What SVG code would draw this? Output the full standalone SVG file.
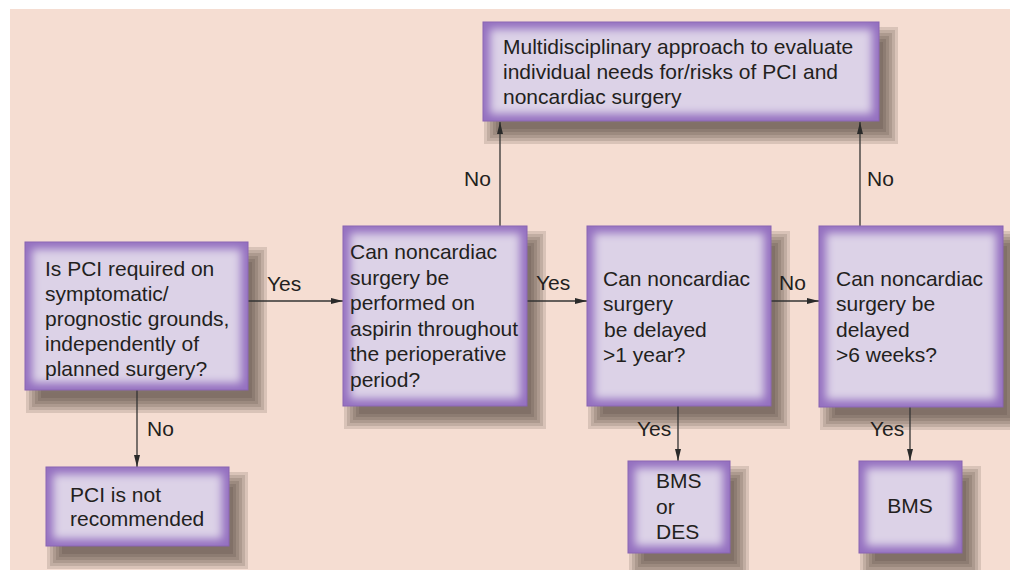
<svg xmlns="http://www.w3.org/2000/svg" width="1010" height="570" viewBox="0 0 1010 570">
<defs>
<filter id="gl" x="-10%" y="-10%" width="120%" height="120%">
 <feGaussianBlur stdDeviation="4"/>
</filter>
<marker id="arr" viewBox="0 0 12 6" refX="12" refY="3" markerWidth="12" markerHeight="6" markerUnits="userSpaceOnUse" orient="auto">
 <path d="M0,0 L12,3 L0,6 Z" fill="#2a2a2a"/>
</marker>
</defs>
<style>
.s{fill:#3a2c2a;fill-opacity:0.15}
.ed{fill:#9470c0;stroke:#8862b2;stroke-width:1}
.in{fill:#dcd2e7;filter:url(#gl)}
text{font-family:"Liberation Sans",Arial,sans-serif;font-size:21px;fill:#231f20}
.c{stroke:#333;stroke-width:1.3;fill:none;marker-end:url(#arr)}
</style>
<rect x="10" y="9" width="1000" height="561" fill="#f5ddd2"/>
<g id="shadows">
 <g transform="translate(493,36)"><rect class="s" x="-9" y="-9" width="414" height="117"/><rect class="s" x="-6" y="-6" width="408" height="111"/><rect class="s" x="-3" y="-3" width="402" height="105"/><rect class="s" x="0" y="0" width="396" height="99"/><rect class="s" x="3" y="3" width="390" height="93"/><rect class="s" x="6" y="6" width="384" height="87"/></g>
 <g transform="translate(35,256)"><rect class="s" x="-9" y="-9" width="241" height="166"/><rect class="s" x="-6" y="-6" width="235" height="160"/><rect class="s" x="-3" y="-3" width="229" height="154"/><rect class="s" x="0" y="0" width="223" height="148"/><rect class="s" x="3" y="3" width="217" height="142"/><rect class="s" x="6" y="6" width="211" height="136"/></g>
 <g transform="translate(353,240)"><rect class="s" x="-9" y="-9" width="202" height="198"/><rect class="s" x="-6" y="-6" width="196" height="192"/><rect class="s" x="-3" y="-3" width="190" height="186"/><rect class="s" x="0" y="0" width="184" height="180"/><rect class="s" x="3" y="3" width="178" height="174"/><rect class="s" x="6" y="6" width="172" height="168"/></g>
 <g transform="translate(597,240)"><rect class="s" x="-9" y="-9" width="202" height="198"/><rect class="s" x="-6" y="-6" width="196" height="192"/><rect class="s" x="-3" y="-3" width="190" height="186"/><rect class="s" x="0" y="0" width="184" height="180"/><rect class="s" x="3" y="3" width="178" height="174"/><rect class="s" x="6" y="6" width="172" height="168"/></g>
 <g transform="translate(829,240)"><rect class="s" x="-9" y="-9" width="202" height="199"/><rect class="s" x="-6" y="-6" width="196" height="193"/><rect class="s" x="-3" y="-3" width="190" height="187"/><rect class="s" x="0" y="0" width="184" height="181"/><rect class="s" x="3" y="3" width="178" height="175"/><rect class="s" x="6" y="6" width="172" height="169"/></g>
 <g transform="translate(56,481)"><rect class="s" x="-9" y="-9" width="201" height="97"/><rect class="s" x="-6" y="-6" width="195" height="91"/><rect class="s" x="-3" y="-3" width="189" height="85"/><rect class="s" x="0" y="0" width="183" height="79"/><rect class="s" x="3" y="3" width="177" height="73"/><rect class="s" x="6" y="6" width="171" height="67"/></g>
 <g transform="translate(638,475)"><rect class="s" x="-9" y="-9" width="120" height="110"/><rect class="s" x="-6" y="-6" width="114" height="104"/><rect class="s" x="-3" y="-3" width="108" height="98"/><rect class="s" x="0" y="0" width="102" height="92"/><rect class="s" x="3" y="3" width="96" height="86"/><rect class="s" x="6" y="6" width="90" height="80"/></g>
 <g transform="translate(869,475)"><rect class="s" x="-9" y="-9" width="121" height="110"/><rect class="s" x="-6" y="-6" width="115" height="104"/><rect class="s" x="-3" y="-3" width="109" height="98"/><rect class="s" x="0" y="0" width="103" height="92"/><rect class="s" x="3" y="3" width="97" height="86"/><rect class="s" x="6" y="6" width="91" height="80"/></g>
</g>
<g id="connectors">
 <line class="c" x1="248" y1="301" x2="343" y2="301"/>
 <line class="c" x1="527" y1="301" x2="587" y2="301"/>
 <line class="c" x1="771" y1="301" x2="819" y2="301"/>
 <line class="c" x1="500" y1="226" x2="500" y2="122"/>
 <line class="c" x1="860" y1="226" x2="860" y2="122"/>
 <line class="c" x1="137" y1="390" x2="137" y2="467"/>
 <line class="c" x1="678" y1="406" x2="678" y2="461"/>
 <line class="c" x1="910" y1="407" x2="910" y2="461"/>
 <text x="267" y="291">Yes</text>
 <text x="536" y="290">Yes</text>
 <text x="779" y="290">No</text>
 <text x="464" y="186">No</text>
 <text x="867" y="186">No</text>
 <text x="147" y="436">No</text>
 <text x="637" y="436">Yes</text>
 <text x="870" y="436">Yes</text>
</g>
<g id="multidisciplinary">
 <rect class="ed" x="483" y="22" width="396" height="99"/>
 <rect class="in" x="490" y="29" width="382" height="85"/>
 <text x="503" y="54">Multidisciplinary approach to evaluate</text>
 <text x="503" y="79">individual needs for/risks of PCI and</text>
 <text x="503" y="104">noncardiac surgery</text>
</g>
<g id="pci-required">
 <rect class="ed" x="25" y="242" width="223" height="148"/>
 <rect class="in" x="32" y="249" width="209" height="134"/>
 <text x="45" y="276">Is PCI required on</text>
 <text x="45" y="301">symptomatic/</text>
 <text x="45" y="326">prognostic grounds,</text>
 <text x="45" y="351">independently of</text>
 <text x="45" y="376">planned surgery?</text>
</g>
<g id="aspirin">
 <rect class="ed" x="343" y="226" width="184" height="180"/>
 <rect class="in" x="350" y="233" width="170" height="166"/>
 <text x="350" y="259">Can noncardiac</text>
 <text x="350" y="284.5">surgery be</text>
 <text x="350" y="310">performed on</text>
 <text x="350" y="335.5">aspirin throughout</text>
 <text x="350" y="361">the perioperative</text>
 <text x="350" y="386.5">period?</text>
</g>
<g id="delay-1year">
 <rect class="ed" x="587" y="226" width="184" height="180"/>
 <rect class="in" x="594" y="233" width="170" height="166"/>
 <text x="603" y="285.5">Can noncardiac</text>
 <text x="603" y="311">surgery</text>
 <text x="604" y="336.5">be delayed</text>
 <text x="603" y="362">&gt;1 year?</text>
</g>
<g id="delay-6weeks">
 <rect class="ed" x="819" y="226" width="184" height="181"/>
 <rect class="in" x="826" y="233" width="170" height="167"/>
 <text x="836" y="285.5">Can noncardiac</text>
 <text x="836" y="311">surgery be</text>
 <text x="836" y="336.5">delayed</text>
 <text x="836" y="362">&gt;6 weeks?</text>
</g>
<g id="not-recommended">
 <rect class="ed" x="46" y="467" width="183" height="79"/>
 <rect class="in" x="53" y="474" width="169" height="65"/>
 <text x="70" y="502">PCI is not</text>
 <text x="70" y="526">recommended</text>
</g>
<g id="bms-or-des">
 <rect class="ed" x="628" y="461" width="102" height="92"/>
 <rect class="in" x="635" y="468" width="88" height="78"/>
 <text x="656" y="488">BMS</text>
 <text x="656" y="513.5">or</text>
 <text x="656" y="539">DES</text>
</g>
<g id="bms">
 <rect class="ed" x="859" y="461" width="103" height="92"/>
 <rect class="in" x="866" y="468" width="89" height="78"/>
 <text x="910" y="513" text-anchor="middle">BMS</text>
</g>
</svg>
